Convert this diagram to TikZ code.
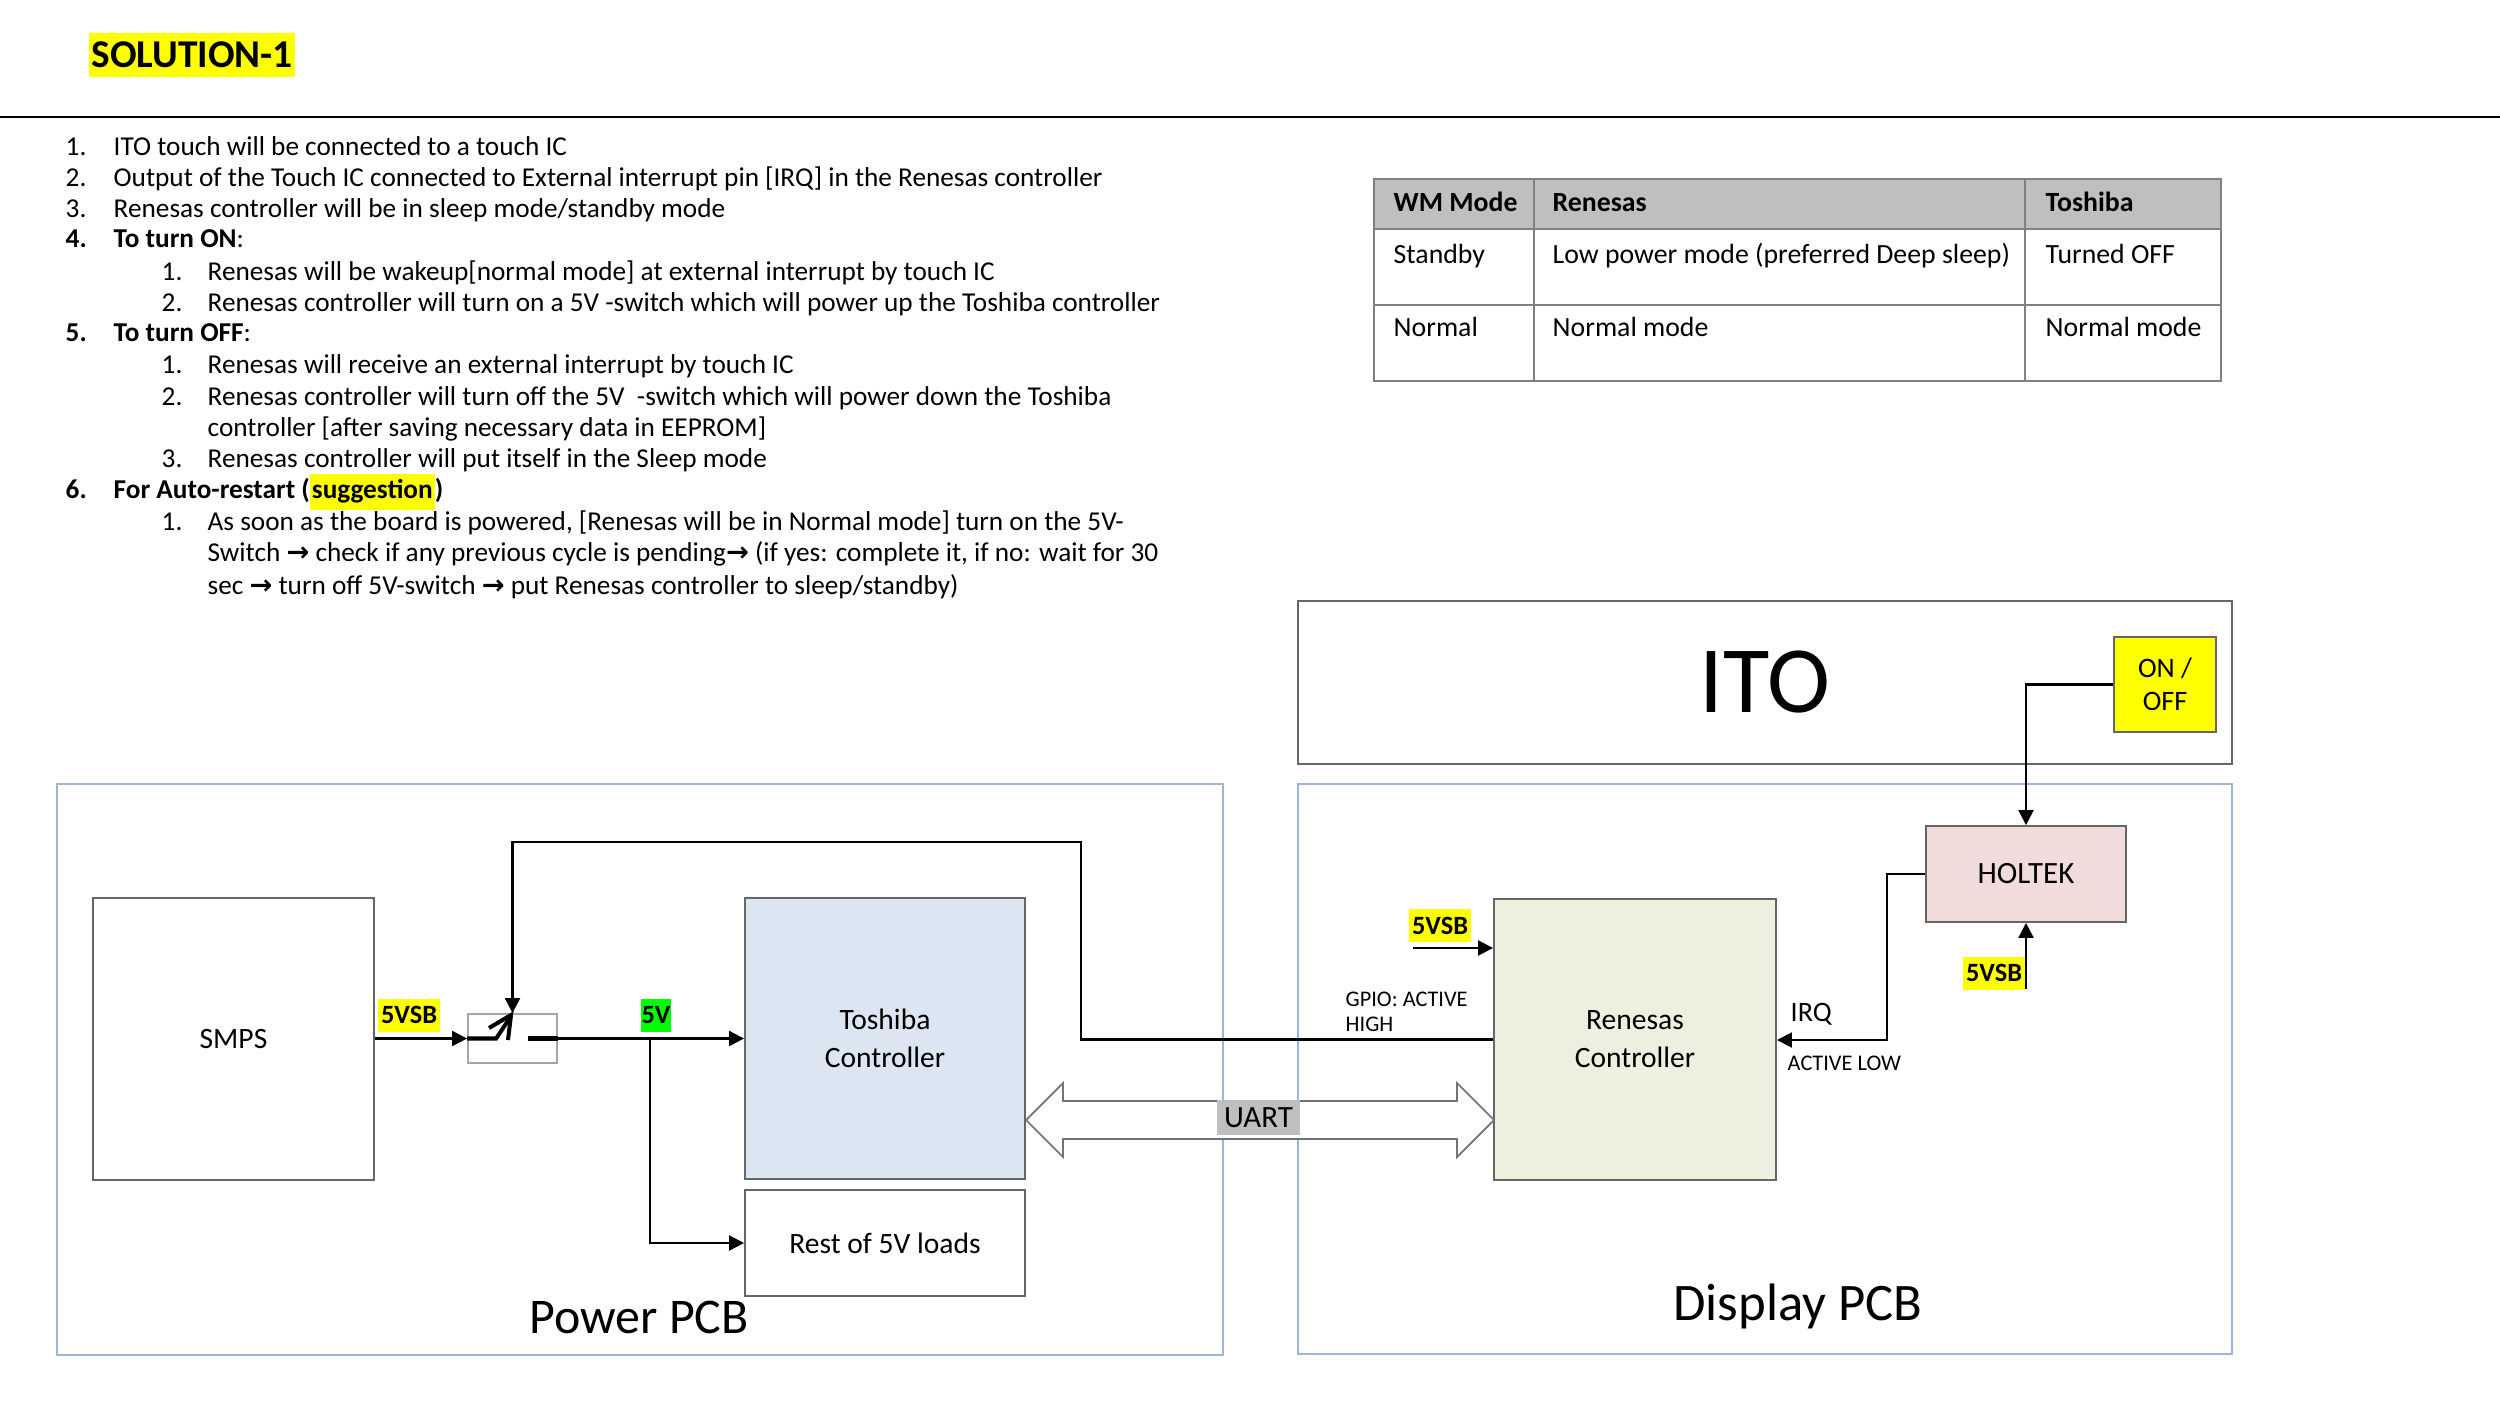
\documentclass[tikz,border=0pt]{standalone}
\usepackage{fontspec}
\setmainfont{Carlito}
\newfontfamily\symf{DejaVu Sans}
\usetikzlibrary{arrows.meta,positioning}

\definecolor{hlyellow}{HTML}{FFFF00}
\definecolor{hlgreen}{HTML}{00FF00}
\definecolor{toshblue}{HTML}{DCE6F2}
\definecolor{renegreen}{HTML}{EBF1DE}
\definecolor{holtpink}{HTML}{F2DCDB}
\definecolor{pcbblue}{HTML}{9DB5DE}
\definecolor{hdrgray}{HTML}{BFBFBF}

\newcommand{\fs}[2]{\fontsize{#1}{#2}\selectfont}
\newcommand{\itm}[1]{\makebox[0.48cm][l]{#1}}
\newcommand{\sitm}[1]{\makebox[0.46cm][l]{#1}}
\newcommand{\rarr}{{\symf\bfseries →}}

\begin{document}
\begin{tikzpicture}[x=0.01cm, y=-0.01cm, >={Triangle[length=1.5mm,width=1.5mm]}]
    \tikzstyle{block}=[draw=black!60, line width=0.5pt, inner sep=0pt, align=center, font=\fs{8.4}{10.8}]
    \tikzstyle{pcb}=[draw=pcbblue, line width=0.5pt, inner sep=0pt]
    \tikzstyle{wire}=[line width=0.6pt, ->]
    \tikzstyle{swline}=[line width=1.15pt]
    \tikzstyle{tag}=[fill=hlyellow, inner sep=0pt, minimum height=0.33cm, font=\bfseries\fs{7.5}{8}]
    \tikzstyle{item}=[anchor=base west, inner sep=0pt, font=\fs{7.75}{9}]
    \tikzstyle{cell}=[anchor=base west, inner sep=0pt, font=\fs{7.9}{9}]
    \tikzstyle{tab}=[draw=black!50, line width=0.4pt]
    \tikzstyle{small}=[anchor=west, inner sep=0pt, align=left, font=\fs{6.35}{7.1}]

    \useasboundingbox (0,0) rectangle (2500,1406);

    % Title and rule
    \node[fill=hlyellow, minimum width=2.05cm, minimum height=0.43cm, inner sep=0pt,
          font=\bfseries\fs{11.2}{12}] (title) at (192,55) {SOLUTION-1};
    \coordinate (ruleL) at (0,117);
    \coordinate (ruleR) at (2500,117);
    \draw[line width=0.85pt] (ruleL) -- (ruleR);

    % Notes
    \node[item] (l1) at (65,155.5) {\itm{1.}ITO touch will be connected to a touch IC};
    \node[item] (l2) at (65,186.5) {\itm{2.}Output of the Touch IC connected to External interrupt pin [IRQ] in the Renesas controller};
    \node[item] (l3) at (65,217.5) {\itm{3.}Renesas controller will be in sleep mode/standby mode};
    \node[item] (l4) at (65,247.5) {\itm{\bfseries 4.}\textbf{To turn ON}:};
    \node[item] (l5) at (161,280.5) {\sitm{1.}Renesas will be wakeup[normal mode] at external interrupt by touch IC};
    \node[item] (l6) at (161,311.5) {\sitm{2.}Renesas controller will turn on a 5V -switch which will power up the Toshiba controller};
    \node[item] (l7) at (65,341.5) {\itm{\bfseries 5.}\textbf{To turn OFF}:};
    \node[item] (l8) at (161,373.5) {\sitm{1.}Renesas will receive an external interrupt by touch IC};
    \node[item] (l9) at (161,405.5) {\sitm{2.}Renesas controller will turn off the 5V\ \ -switch which will power down the Toshiba};
    \node[item] (l10) at (207,436.5) {controller [after saving necessary data in EEPROM]};
    \node[item] (l11) at (161,467.5) {\sitm{3.}Renesas controller will put itself in the Sleep mode};
    \node[item] (l12) at (65,498.5) {\itm{\bfseries 6.}\textbf{For Auto-restart (\setlength{\fboxsep}{0.6pt}\colorbox{hlyellow}{\strut suggestion})}};
    \node[item] (l13) at (161,530.5) {\sitm{1.}As soon as the board is powered, [Renesas will be in Normal mode] turn on the 5V-};
    \node[item] (l14) at (207,561.5) {Switch \rarr{} check if any previous cycle is pending\rarr{} (if yes: complete it, if no: wait for 30};
    \node[item] (l15) at (207,594.5) {sec \rarr{} turn off 5V-switch \rarr{} put Renesas controller to sleep/standby)};

    % Mode table
    \fill[hdrgray] (1374,179) rectangle (2221,229);
    \draw[tab] (1374,179) rectangle (2221,381);
    \foreach \y in {229,305}
        \draw[tab] (1374,\y) -- (2221,\y);
    \foreach \x in {1534,2025}
        \draw[tab] (\x,179) -- (\x,381);
    \node[cell, font=\bfseries\fs{7.9}{9}] (h1) at (1393,211.5) {WM Mode};
    \node[cell, font=\bfseries\fs{7.9}{9}] (h2) at (1552,211.5) {Renesas};
    \node[cell, font=\bfseries\fs{7.9}{9}] (h3) at (2045,211.5) {Toshiba};
    \node[cell] (c11) at (1393,263.5) {Standby};
    \node[cell] (c12) at (1552,263.5) {Low power mode (preferred Deep sleep)};
    \node[cell] (c13) at (2045,263.5) {Turned OFF};
    \node[cell] (c21) at (1393,336.5) {Normal};
    \node[cell] (c22) at (1552,336.5) {Normal mode};
    \node[cell] (c23) at (2045,336.5) {Normal mode};

    % Boards
    \node[pcb, minimum width=11.66cm, minimum height=5.71cm] (powerpcb) at (640,1069.5) {};
    \node[pcb, minimum width=9.34cm, minimum height=5.70cm] (disppcb) at (1765,1069) {};
    \node[font=\fs{14.2}{16}] (powerlbl) at (639,1317) {Power PCB};
    \node[font=\fs{15}{17}] (displbl) at (1798,1306) {Display PCB};
    \node[block, minimum width=9.34cm, minimum height=1.63cm, font=\fs{27}{30}] (ito) at (1765,682.5) {ITO};
    \node[block, fill=hlyellow, minimum width=1.02cm, minimum height=0.95cm, font=\fs{8}{9.4}] (onoff) at (2165,684.5) {ON /\\OFF};

    % Blocks
    \node[block, minimum width=2.81cm, minimum height=2.82cm] (smps) at (233.5,1039) {SMPS};
    \node[block, draw=black!35, minimum width=0.89cm, minimum height=0.49cm] (sw) at (512.5,1038.5) {};
    \node[block, fill=toshblue, minimum width=2.80cm, minimum height=2.81cm] (tosh) at (885,1038.5) {Toshiba\\Controller};
    \node[block, minimum width=2.80cm, minimum height=1.06cm] (rest) at (885,1243) {Rest of 5V loads};
    \node[block, fill=renegreen, minimum width=2.82cm, minimum height=2.81cm] (ren) at (1635,1039.5) {Renesas\\Controller};
    \node[block, fill=holtpink, minimum width=2.00cm, minimum height=0.96cm, font=\fs{8.8}{10.5}] (holtek) at (2026,874) {HOLTEK};

    % Switch symbol
    \draw[swline] (sw.west) -- ++(29,0) -- ++(14,-21);
    \draw[swline] (489,1028) -- (511,1015) -- (508,1040);
    \draw[swline] (528,1038.5) -- (sw.east);

    % UART link
    \draw[draw=black!55, line width=0.5pt, fill=white] (1026,1120) -- (1063,1083) -- (1063,1101)
        -- (1457,1101) -- (1457,1083) -- (1494,1120) -- (1457,1157) -- (1457,1139)
        -- (1063,1139) -- (1063,1157) -- cycle;
    \node[fill=hdrgray, inner sep=0pt, minimum width=0.83cm, minimum height=0.35cm, font=\fs{8.8}{10}] (uart) at (1258.5,1117.5) {UART};

    % Power path
    \draw[wire] (smps.east |- sw.west) -- (sw.west);
    \draw[wire] (sw.east) -- (tosh.west |- sw.east);
    \coordinate (tap) at (650,1038.5);
    \draw[wire] (tap) |- (rest.west);
    \node[tag] (vsbA) at (409,1015) [minimum width=0.62cm] {5VSB};
    \node[tag, fill=hlgreen] (fivev) at (656,1015) [minimum width=0.30cm] {5V};

    % Switch control from Renesas
    \coordinate (fbR) at (1081,842);
    \draw[wire] (ren.west) -| (fbR) -| (sw.north);
    \node[small] (gpio) at (1345,1012) {GPIO: ACTIVE\\HIGH};

    % Standby supply to Renesas
    \coordinate (vsbR) at (1413,948);
    \draw[wire] (vsbR) -- (vsbR -| ren.west);
    \node[tag, minimum width=0.62cm] (vsbB) at (1440,925.5) {5VSB};

    % Touch path
    \draw[wire] (onoff.west) -| (holtek.north);
    \coordinate (irqC) at (1887,1040);
    \draw[wire] (holtek.west) -| (irqC) -- (ren.east |- irqC);
    \node[anchor=west, inner sep=0pt, font=\fs{8}{9.4}] (irq) at (1790,1014) {IRQ};
    \node[small] (actlow) at (1787,1063) {ACTIVE LOW};
    \coordinate (vsbH) at (2026,989);
    \draw[wire] (vsbH) -- (holtek.south);
    \node[tag, minimum width=0.62cm] (vsbC) at (1994,973) {5VSB};
\end{tikzpicture}
\end{document}
